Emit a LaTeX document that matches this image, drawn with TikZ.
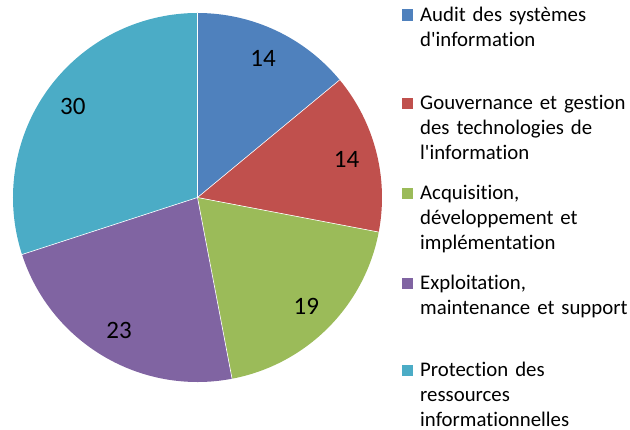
\documentclass[tikz,border=0pt]{standalone}
\usepackage{fontspec}
\setmainfont{Carlito}[Ligatures={NoCommon}]
\usetikzlibrary{positioning}
\definecolor{auditblue}{HTML}{4F81BD}
\definecolor{govred}{HTML}{C0504D}
\definecolor{acqgreen}{HTML}{9BBB59}
\definecolor{exppurple}{HTML}{8064A2}
\definecolor{protcyan}{HTML}{4BACC6}
\tikzset{
  slice/.style={draw=white,line width=0.6pt},
  value/.style={font=\fontsize{25}{30}\selectfont,inner sep=0pt},
  legend/.style={font=\fontsize{20.8}{24.8}\selectfont,align=left,text width=225pt,anchor=base west,inner sep=0pt},
  keybox/.style={minimum size=11.5pt,inner sep=0pt}
}
\begin{document}
\begin{tikzpicture}[x=1pt,y=1pt]
    \useasboundingbox (0,0) rectangle (630,430);
    %% pie slices
    \coordinate (ctr) at (197.5,232.5);
    \foreach \a/\b/\c in {90/39.6/auditblue,39.6/-10.8/govred,-10.8/-79.2/acqgreen,-79.2/-162/exppurple,-162/-270/protcyan}
        \fill[\c] (ctr) -- ++(\a:184.5) arc[start angle=\a,end angle=\b,radius=184.5] -- cycle;
    %% thin white borders
    \foreach \a in {90,39.6,-10.8,-79.2,-162}
        \draw[slice] (ctr) -- ++(\a:184.5);
    %% values
    \foreach \i/\m/\v in {1/64.8/14,2/14.4/14,3/-45/19,4/-120.6/23,5/-216/30}
        \path (ctr) ++(\m:154) node[value] (val\i) {\v};
    %% legend
    \node[legend] (leg1) at (420,408.5) {Audit des systèmes\\d\textquotesingle information};
    \node[legend] (leg2) at (420,320)   {Gouvernance et gestion\\des technologies de\\l\textquotesingle information};
    \node[legend] (leg3) at (420,230)   {Acquisition,\\développement et\\implémentation};
    \node[legend] (leg4) at (420,140)   {Exploitation,\\maintenance et support};
    \node[legend] (leg5) at (420,53)    {Protection des\\ressources\\informationnelles};
    \foreach \i/\c in {1/auditblue,2/govred,3/acqgreen,4/exppurple,5/protcyan}
        \node[keybox,fill=\c,left=6.5pt of leg\i.base west,yshift=6.5pt] (key\i) {};
\end{tikzpicture}
\end{document}
